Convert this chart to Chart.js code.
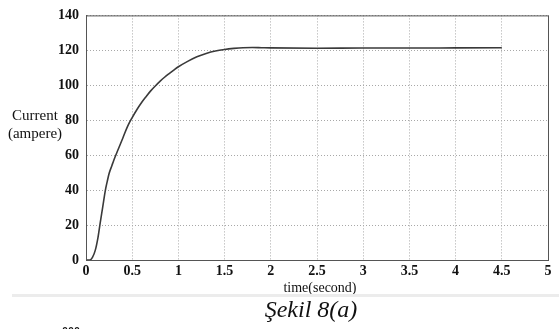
<!DOCTYPE html>
<html>
<head>
<meta charset="utf-8">
<script src="https://cdn.jsdelivr.net/npm/chart.js@4"></script>
<style>
  html, body { margin: 0; padding: 0; background: #fff; }
  #wrap { position: relative; width: 559px; height: 329px; overflow: hidden; font-family: "Liberation Serif", serif; }
  #box { position: absolute; left: 0; top: 0; width: 559px; height: 329px; }
  .lbl { position: absolute; white-space: nowrap; color: #111; }
  #ylab { left: 2px; top: 106px; font-size: 15px; line-height: 18px; text-align: center; width: 66px; }
  #xlab { left: 0; width: 640px; top: 280px; font-size: 14px; text-align: center; }
  #sep { position: absolute; left: 12px; top: 294px; width: 547px; height: 3px; background: #ececec; }
  #cap { left: 0; width: 622px; top: 296px; font-size: 24px; font-style: italic; text-align: center; }
  #frag { left: 62px; top: 324px; font-size: 12px; font-weight: bold; }
</style>
</head>
<body>
<div id="wrap">
  <div id="box"><canvas id="mainChart"></canvas></div>
  <div class="lbl" id="ylab">Current<br>(ampere)</div>
  <div class="lbl" id="xlab">time(second)</div>
  <div id="sep"></div>
  <div class="lbl" id="cap">Şekil 8(a)</div>
  <div class="lbl" id="frag">000</div>
</div>
<script>
'use strict';

/* datos */
const TIME    = [0, 0.04, 0.07, 0.1, 0.13, 0.15, 0.18, 0.21, 0.23, 0.25, 0.28, 0.3, 0.35, 0.4, 0.45, 0.5, 0.55, 0.6, 0.65, 0.7, 0.75, 0.8, 0.85, 0.9, 0.95, 1.0, 1.1, 1.2, 1.3, 1.4, 1.5, 1.6, 1.7, 1.8, 1.9, 2.0, 2.5, 3.0, 3.5, 4.0, 4.5];
const CURRENT = [0, 0, 1.5, 5.5, 13, 20, 30, 40, 45, 49.5, 54, 57, 63.5, 70, 76.5, 81.5, 86, 90, 93.5, 96.8, 99.6, 102.2, 104.6, 106.7, 108.7, 110.6, 113.7, 116.3, 118.2, 119.6, 120.5, 121.1, 121.5, 121.6, 121.5, 121.4, 121.2, 121.3, 121.3, 121.4, 121.5];
const X_TICKS = [0, 0.5, 1, 1.5, 2, 2.5, 3, 3.5, 4, 4.5, 5];
const Y_TICKS = [0, 20, 40, 60, 80, 100, 120, 140];

const tickFont = { family: 'Liberation Serif', size: 14, weight: 'bold' };

// marco completo del area del grafico
const frame = {
  id: 'frame',
  afterDraw(chart) {
    const { ctx, chartArea: a } = chart;
    ctx.save();
    ctx.setLineDash([]);
    ctx.strokeStyle = '#555';
    ctx.lineWidth = 1;
    ctx.strokeRect(a.left + 0.5, a.top + 0.5, a.right - a.left, a.bottom - a.top);
    ctx.restore();
  }
};

const grid = { color: '#a8a8a8', lineWidth: 1, drawTicks: false };
const border = { color: '#555', width: 1, dash: [1, 2] };

new Chart(document.getElementById('mainChart'), {
  type: 'line',
  data: {
    datasets: [{
      data: TIME.map((t, i) => ({ x: t, y: CURRENT[i] })),
      borderColor: '#3a3a3a',
      borderWidth: 1.6,
      pointRadius: 0,
      cubicInterpolationMode: 'monotone',
      fill: false
    }]
  },
  options: {
    responsive: true,
    maintainAspectRatio: false,
    animation: false,
    layout: { padding: { top: 9, right: 11, left: 0, bottom: 0 } },
    plugins: { legend: { display: false }, tooltip: { enabled: false } },
    scales: {
      x: {
        type: 'linear', min: 0, max: 5,
        afterBuildTicks: s => { s.ticks = X_TICKS.map(v => ({ value: v })); },
        afterFit: s => { s.height = 69; },
        grid,
        border,
        ticks: { color: '#111', font: tickFont, padding: 3, maxRotation: 0, autoSkip: false, callback: v => String(v) }
      },
      y: {
        min: 0, max: 140,
        afterBuildTicks: s => { s.ticks = Y_TICKS.map(v => ({ value: v })); },
        afterFit: s => { s.width = 86; },
        grid,
        border,
        ticks: { color: '#111', font: tickFont, padding: 7, callback: v => String(v) }
      }
    }
  },
  plugins: [frame]
});
</script>
</body>
</html>
